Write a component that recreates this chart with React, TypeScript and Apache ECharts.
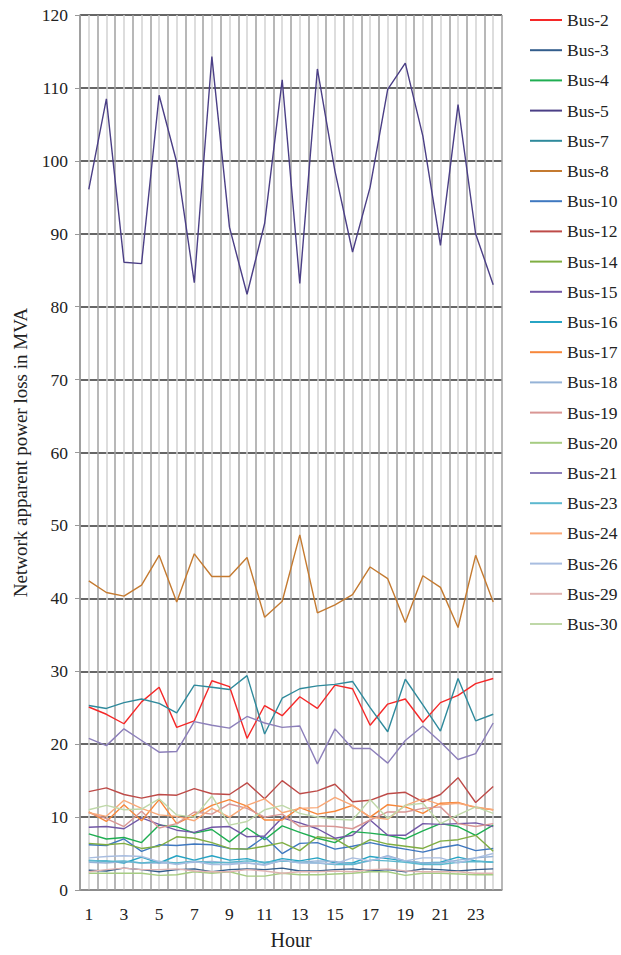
import React, { useEffect, useRef } from "react";
import * as echarts from "echarts";

const hours = [1, 2, 3, 4, 5, 6, 7, 8, 9, 10, 11, 12, 13, 14, 15, 16, 17, 18, 19, 20, 21, 22, 23, 24];

const busNames = ["Bus-2", "Bus-3", "Bus-4", "Bus-5", "Bus-7", "Bus-8", "Bus-10", "Bus-12", "Bus-14", "Bus-15", "Bus-16", "Bus-17", "Bus-18", "Bus-19", "Bus-20", "Bus-21", "Bus-23", "Bus-24", "Bus-26", "Bus-29", "Bus-30"];

const busColors = ["#f52828", "#335d8c", "#1fae52", "#4b3f86", "#2f8a9c", "#c47a30", "#3f78c0", "#be4b48", "#7fae42", "#7157a6", "#27a4c4", "#f7873a", "#95b3d7", "#d99694", "#a6cc82", "#8c7fba", "#5cb8cf", "#f9a877", "#a8bde0", "#e0b4b2", "#bfd8a8"];

const bus2 = [25.1, 24.1, 22.8, 25.8, 27.8, 22.3, 23.2, 28.7, 27.9, 20.8, 25.3, 23.9, 26.5, 24.9, 28.1, 27.6, 22.6, 25.5, 26.2, 23.0, 25.7, 26.7, 28.3, 29.0];
const bus3 = [2.7, 2.6, 3.0, 2.8, 2.5, 2.8, 2.9, 2.5, 2.8, 2.9, 2.8, 3.0, 2.6, 2.6, 2.8, 2.9, 2.6, 2.8, 2.5, 2.9, 2.8, 2.6, 2.8, 2.9];
const bus4 = [7.7, 7.0, 7.2, 6.5, 8.9, 8.7, 7.8, 8.3, 6.6, 8.5, 6.9, 8.8, 7.9, 7.1, 6.5, 8.0, 7.8, 7.5, 7.0, 8.1, 9.1, 8.7, 7.5, 8.9];
const bus5 = [96.1, 108.5, 86.1, 85.9, 109.0, 99.8, 83.3, 114.3, 90.9, 81.7, 91.4, 111.1, 83.2, 112.6, 98.6, 87.5, 96.4, 109.8, 113.4, 103.4, 88.4, 107.7, 90.0, 83.0];
const bus7 = [25.3, 24.9, 25.7, 26.2, 25.6, 24.3, 28.1, 27.8, 27.5, 29.4, 21.4, 26.3, 27.6, 28.0, 28.2, 28.6, 25.0, 21.7, 28.9, 25.4, 21.8, 29.0, 23.2, 24.1];
const bus8 = [42.4, 40.8, 40.3, 41.8, 45.9, 39.5, 46.1, 43.0, 43.0, 45.6, 37.4, 39.6, 48.7, 38.0, 39.1, 40.5, 44.3, 42.7, 36.7, 43.1, 41.5, 36.0, 45.9, 39.5];
const bus10 = [6.2, 6.1, 7.0, 5.3, 6.2, 6.1, 6.3, 6.2, 5.7, 5.6, 7.3, 5.0, 6.4, 6.5, 5.6, 6.0, 6.5, 6.0, 5.6, 5.2, 5.8, 6.2, 5.4, 5.7];
const bus12 = [13.5, 14.0, 13.1, 12.6, 13.1, 13.0, 13.9, 13.2, 13.1, 14.7, 12.5, 15.0, 13.2, 13.6, 14.5, 12.1, 12.3, 13.2, 13.4, 12.1, 13.1, 15.4, 12.0, 14.2];
const bus14 = [6.4, 6.2, 6.4, 5.7, 6.0, 7.3, 7.1, 6.5, 5.7, 5.6, 6.0, 6.5, 5.4, 7.3, 7.0, 5.6, 6.9, 6.3, 6.0, 5.7, 6.7, 6.9, 7.5, 5.3];
const bus15 = [8.6, 8.7, 8.4, 9.9, 9.0, 8.2, 7.9, 8.6, 8.7, 7.3, 7.4, 9.9, 9.2, 8.4, 7.1, 7.5, 9.6, 7.5, 7.5, 9.1, 9.0, 9.1, 9.2, 8.7];
const bus16 = [4.0, 4.0, 3.7, 4.5, 3.7, 4.7, 4.1, 4.7, 4.1, 4.3, 3.7, 4.3, 4.0, 4.4, 3.7, 3.7, 4.6, 4.3, 4.0, 3.7, 3.8, 4.5, 4.0, 3.8];
const bus17 = [10.7, 9.4, 11.7, 9.5, 12.4, 9.1, 10.3, 11.6, 12.4, 11.5, 9.6, 9.6, 11.3, 10.4, 10.8, 11.6, 10.0, 11.7, 11.4, 10.5, 11.9, 12.0, 11.3, 11.0];
const bus18 = [3.8, 3.7, 3.9, 3.7, 3.7, 3.7, 3.8, 3.9, 3.7, 3.7, 3.5, 4.0, 3.8, 4.0, 3.9, 3.5, 4.0, 4.7, 4.0, 3.7, 3.7, 4.1, 4.4, 4.6];
const bus19 = [10.6, 9.8, 8.7, 10.8, 8.5, 9.1, 10.7, 10.4, 11.8, 11.2, 10.0, 10.4, 8.7, 8.8, 8.7, 8.4, 9.6, 10.7, 10.7, 11.2, 11.4, 9.1, 8.7, 9.1];
const bus20 = [2.3, 2.3, 2.3, 2.3, 2.0, 2.1, 2.5, 2.3, 2.5, 1.9, 1.9, 2.3, 2.1, 2.1, 2.2, 2.3, 2.5, 2.5, 2.0, 2.3, 2.3, 2.2, 2.1, 2.1];
const bus21 = [20.8, 19.8, 22.1, 20.5, 18.9, 19.0, 23.1, 22.6, 22.2, 23.8, 22.9, 22.3, 22.5, 17.3, 22.1, 19.4, 19.4, 17.4, 20.5, 22.5, 20.3, 17.9, 18.7, 22.9];
const bus23 = [4.1, 3.9, 4.0, 3.7, 3.9, 3.7, 4.0, 3.7, 3.8, 4.0, 3.8, 4.0, 3.8, 3.7, 3.5, 3.5, 4.1, 4.0, 3.8, 3.5, 3.5, 3.8, 3.9, 3.8];
const bus24 = [10.6, 10.1, 12.3, 11.2, 10.3, 10.1, 9.5, 11.2, 10.0, 11.6, 12.5, 10.6, 11.2, 11.3, 12.7, 11.6, 10.0, 9.7, 11.6, 12.5, 11.7, 11.9, 11.4, 11.0];
const bus26 = [4.4, 4.6, 4.7, 4.6, 3.9, 3.5, 3.9, 3.5, 3.5, 3.7, 3.4, 4.1, 3.7, 3.7, 3.6, 4.4, 4.0, 4.6, 4.0, 4.4, 4.4, 3.7, 4.4, 5.0];
const bus29 = [2.5, 2.8, 3.0, 2.8, 2.8, 2.9, 2.6, 2.5, 2.5, 2.8, 2.6, 2.3, 2.5, 2.5, 2.6, 2.5, 2.8, 2.9, 2.6, 2.5, 2.5, 2.5, 2.3, 2.3];
const bus30 = [11.0, 11.6, 11.0, 11.1, 12.5, 10.3, 10.0, 12.9, 8.9, 9.4, 11.0, 11.6, 10.5, 10.0, 9.7, 9.6, 12.4, 9.8, 11.6, 11.9, 9.1, 10.3, 11.4, 10.5];

const busValues = [bus2, bus3, bus4, bus5, bus7, bus8, bus10, bus12, bus14, bus15, bus16, bus17, bus18, bus19, bus20, bus21, bus23, bus24, bus26, bus29, bus30];

const FONT = "Liberation Serif";

export default function App() {
  const ref = useRef<HTMLDivElement>(null);
  useEffect(() => {
    if (!ref.current) return;
    const chart = echarts.init(ref.current, undefined, { renderer: "svg" });
    const series = busNames.map((name, i) => ({
      name,
      type: "line",
      symbol: "none",
      data: hours.map((h, j) => [h, busValues[i][j]]),
      lineStyle: { width: 1.4, color: busColors[i] },
      itemStyle: { color: busColors[i] },
    }));
    chart.setOption({
      animation: false,
      backgroundColor: "#ffffff",
      textStyle: { fontFamily: FONT },
      grid: { left: 80, right: 119, top: 15, bottom: 60 },
      legend: {
        orient: "vertical",
        left: 525,
        top: 6,
        icon: "rect",
        itemWidth: 32,
        itemHeight: 2,
        itemGap: 12.2,
        data: busNames,
        textStyle: { fontFamily: FONT, fontSize: 17.5, color: "#222", lineHeight: 18 },
      },
      xAxis: {
        type: "value",
        min: 0.5,
        max: 24.5,
        interval: 0.5,
        name: "Hour",
        nameLocation: "middle",
        nameGap: 40,
        nameTextStyle: { fontFamily: FONT, fontSize: 20, color: "#222" },
        axisLine: { show: true, lineStyle: { color: "#999", width: 1.5 } },
        axisTick: { show: false },
        axisLabel: {
          fontFamily: FONT,
          fontSize: 17.5,
          color: "#222",
          margin: 15,
          formatter: (v: number) => (Number.isInteger(v) && v % 2 === 1 ? String(v) : ""),
        },
        splitLine: { show: true, lineStyle: { color: ["#a0a0a0", "#d2d2d2"], width: 1.5 } },
      },
      yAxis: {
        type: "value",
        min: 0,
        max: 120,
        interval: 10,
        name: "Network apparent power loss in MVA",
        nameLocation: "middle",
        nameGap: 50,
        nameTextStyle: { fontFamily: FONT, fontSize: 19, color: "#222" },
        axisLine: { show: true, lineStyle: { color: "#999", width: 1.5 } },
        axisTick: { show: true, length: 5, lineStyle: { color: "#999" } },
        axisLabel: { fontFamily: FONT, fontSize: 17.5, color: "#222", margin: 12 },
        splitLine: { show: true, lineStyle: { color: "#333", width: 1.5 } },
      },
      series,
    });
    return () => chart.dispose();
  }, []);
  return <div ref={ref} style={{ position: "fixed", left: 0, top: 0, width: 621, height: 955 }} />;
}
